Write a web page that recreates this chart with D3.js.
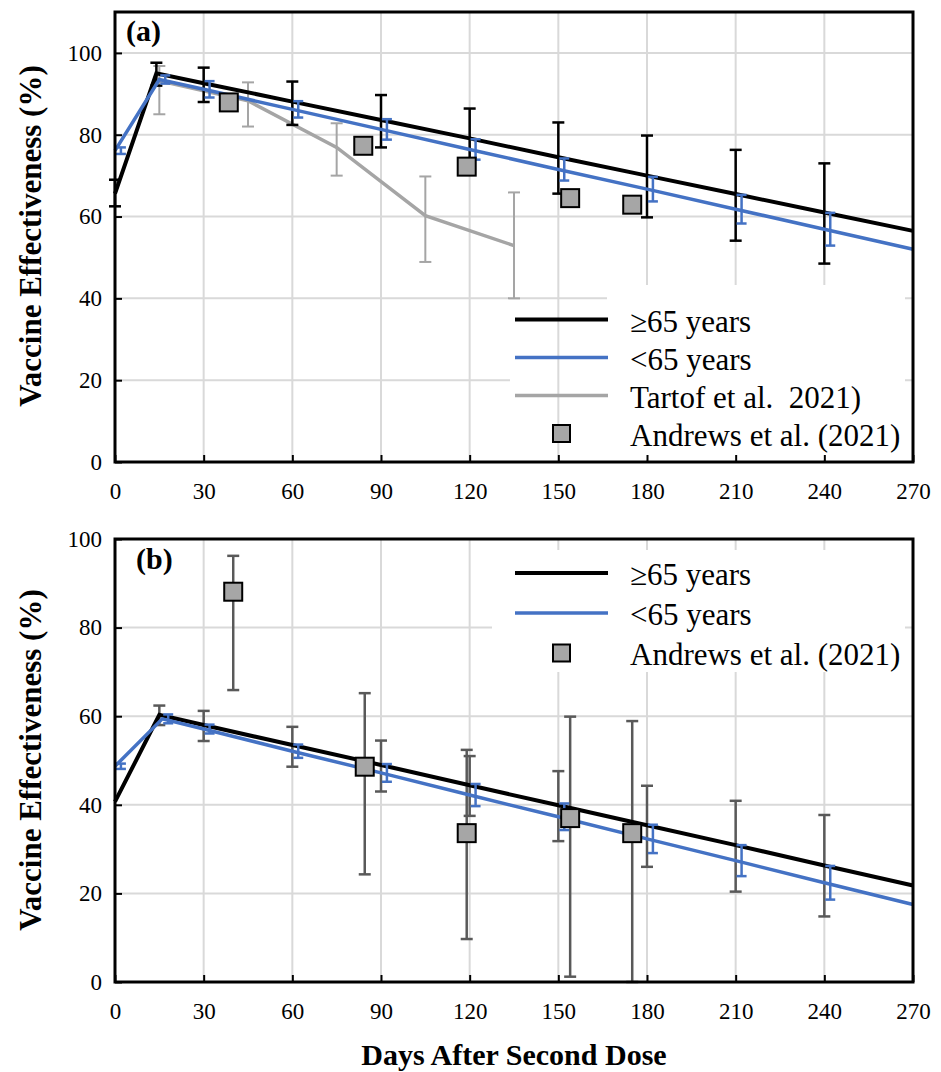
<!DOCTYPE html>
<html>
<head>
<meta charset="utf-8">
<script src="https://cdn.jsdelivr.net/npm/d3@7"></script>
<style>
  body { margin: 0; background: #fff; }
  text { font-family: "Liberation Serif", "Times New Roman", serif; white-space: pre; }
</style>
</head>
<body>
<div id="chart"></div>
<script>
// ---- data ----
const xTicks = [0, 30, 60, 90, 120, 150, 180, 210, 240, 270]
const yTicks = [0, 20, 40, 60, 80, 100]

// panel (a)
const olderA_day = [0, 14, 30, 60, 90, 120, 150, 180, 210, 240, 270]
const olderA_ve  = [65.6, 95, 92.6, 88.1, 83.6, 79.1, 74.5, 70.0, 65.5, 61.0, 56.5]
const olderA_errDay = [0, 14, 30, 60, 90, 120, 150, 180, 210, 240]
const olderA_lo  = [62.5, 92, 88, 82.4, 76.9, 72, 65.6, 59.8, 54.1, 48.5]
const olderA_hi  = [69, 97.6, 96.4, 93, 89.7, 86.4, 83, 79.8, 76.3, 73]

const youngA_day = [0, 15, 30, 60, 90, 120, 150, 180, 210, 240, 270]
const youngA_ve  = [76.1, 93.5, 91.1, 86.2, 81.3, 76.4, 71.5, 66.7, 61.8, 56.9, 52.0]
const youngA_err = [0.8, 1, 2, 2, 2.5, 2.5, 2.7, 3, 3.5, 4, 0]

const tartof_day = [15, 45, 75, 105, 135]
const tartof_ve  = [93.2, 88.3, 76.9, 60.2, 52.9]
const tartof_lo  = [85, 82, 70, 48.9, 40]
const tartof_hi  = [96.8, 92.8, 82.8, 69.8, 65.9]

const andrewsA_day = [38.5, 84, 119, 154, 175]
const andrewsA_ve  = [87.9, 77.3, 72.2, 64.5, 62.9]

// panel (b)
const olderB_day = [0, 15, 30, 60, 90, 120, 150, 180, 210, 240, 270]
const olderB_ve  = [40.7, 60.3, 58.0, 53.5, 49.0, 44.4, 39.9, 35.4, 30.9, 26.3, 21.8]
const olderB_errDay = [15, 30, 60, 90, 120, 150, 180, 210, 240]
const olderB_lo  = [58, 54.4, 48.6, 43, 37.5, 31.8, 26, 20.4, 14.8]
const olderB_hi  = [62.4, 61.2, 57.6, 54.5, 51, 47.6, 44.3, 40.9, 37.7]

const youngB_day = [0, 16, 30, 60, 90, 120, 150, 180, 210, 240, 270]
const youngB_ve  = [48.7, 59.4, 57.1, 52.1, 47.2, 42.2, 37.3, 32.3, 27.4, 22.4, 17.5]
const youngB_err = [0.6, 1, 1, 1.5, 2, 2.5, 3, 3.2, 3.5, 3.8, 0]

const andrewsB_day = [40, 84.5, 119, 154, 175]
const andrewsB_ve  = [88.1, 48.6, 33.6, 37, 33.6]
const andrewsB_lo  = [65.9, 24.3, 9.7, 1.2, 0]
const andrewsB_hi  = [96.2, 65.2, 52.4, 59.9, 58.9]

// ---- colours ----
const BLACK = '#000', BLUE = '#4472C4', GREY = '#A5A5A5', DARK = '#595959', GRID = '#d9d9d9'
const SQ_FILL = '#a6a6a6'

const width = 941, height = 1072
const left = 115, right = 913

const svg = d3.select('#chart').append('svg')
  .attr('width', width)
  .attr('height', height)

const x = d3.scaleLinear().domain([0, 270]).range([left, right])

function drawLine(g, y, days, ve, color, w) {
  g.append('path')
    .datum(d3.zip(days, ve))
    .attr('fill', 'none')
    .attr('stroke', color)
    .attr('stroke-width', w)
    .attr('d', d3.line().x(d => x(d[0])).y(d => y(d[1])))
}

function drawErrors(g, y, days, lo, hi, color, w, cap) {
  const data = days.map((d, i) => ({ d: d, lo: lo[i], hi: hi[i] }))
  const eg = g.append('g').attr('stroke', color).attr('stroke-width', w).attr('fill', 'none')
  eg.selectAll('.bar').data(data).join('line')
    .attr('x1', d => x(d.d)).attr('x2', d => x(d.d))
    .attr('y1', d => y(d.lo)).attr('y2', d => y(d.hi))
  eg.selectAll('.capLo').data(data).join('line')
    .attr('x1', d => x(d.d) - cap / 2).attr('x2', d => x(d.d) + cap / 2)
    .attr('y1', d => y(d.lo)).attr('y2', d => y(d.lo))
  eg.selectAll('.capHi').data(data).join('line')
    .attr('x1', d => x(d.d) - cap / 2).attr('x2', d => x(d.d) + cap / 2)
    .attr('y1', d => y(d.hi)).attr('y2', d => y(d.hi))
}

// blue bars are shifted 2 days to the right, like in the original sheet
function drawOffsetErrors(g, y, days, ve, err, color) {
  const dd = [], lo = [], hi = []
  days.forEach((d, i) => {
    if (err[i] > 0) { dd.push(d + 2); lo.push(ve[i] - err[i]); hi.push(ve[i] + err[i]) }
  })
  drawErrors(g, y, dd, lo, hi, color, 2.5, 10)
}

function drawSquares(g, y, days, ve) {
  g.append('g').selectAll('rect')
    .data(d3.zip(days, ve))
    .join('rect')
    .attr('x', d => x(d[0]) - 9)
    .attr('y', d => y(d[1]) - 9)
    .attr('width', 18).attr('height', 18)
    .attr('fill', SQ_FILL)
    .attr('stroke', '#000')
    .attr('stroke-width', 2)
}

function gridAndAxes(g, y, top, bottom, masks) {
  g.append('g').selectAll('line')
    .data(yTicks.filter(d => d > 0 && y(d) > top + 1))
    .join('line')
    .attr('x1', left).attr('x2', right)
    .attr('y1', d => y(d)).attr('y2', d => y(d))
    .attr('stroke', GRID).attr('stroke-width', 2)

  masks.before.forEach(m => g.append('rect').attr('x', m[0]).attr('y', m[1])
    .attr('width', m[2] - m[0]).attr('height', m[3] - m[1]).attr('fill', '#fff'))

  g.append('g').selectAll('line')
    .data(xTicks.filter(d => d > 0 && d < 270))
    .join('line')
    .attr('x1', d => x(d)).attr('x2', d => x(d))
    .attr('y1', top).attr('y2', bottom)
    .attr('stroke', GRID).attr('stroke-width', 2)

  masks.after.forEach(m => g.append('rect').attr('x', m[0]).attr('y', m[1])
    .attr('width', m[2] - m[0]).attr('height', m[3] - m[1]).attr('fill', '#fff'))
}

function frame(g, y, top, bottom, xLabelY) {
  g.append('rect')
    .attr('x', left).attr('y', top)
    .attr('width', right - left).attr('height', bottom - top)
    .attr('fill', 'none').attr('stroke', '#000').attr('stroke-width', 3)

  const ya = g.append('g')
    .attr('transform', `translate(${left},0)`)
    .call(d3.axisLeft(y).tickValues(yTicks).tickSize(-7).tickSizeOuter(0).tickPadding(13))
  ya.select('.domain').remove()
  ya.selectAll('line').attr('stroke', '#000').attr('stroke-width', 2)
  ya.selectAll('text').attr('font-size', 23).attr('fill', '#000')

  const xa = g.append('g')
    .attr('transform', `translate(0,${bottom})`)
    .call(d3.axisBottom(x).tickValues(xTicks).tickSize(-7).tickSizeOuter(0).tickPadding(xLabelY))
  xa.select('.domain').remove()
  xa.selectAll('line').attr('stroke', '#000').attr('stroke-width', 2)
  xa.selectAll('text').attr('font-size', 23).attr('fill', '#000')
}

function yTitle(g, cy) {
  g.append('text')
    .attr('transform', `translate(41,${cy}) rotate(-90)`)
    .attr('text-anchor', 'middle')
    .attr('font-size', 31)
    .attr('font-weight', 'bold')
    .text('Vaccine Effectiveness (%)')
}

function legend(g, items, y0, step) {
  items.forEach((it, i) => {
    const cy = y0 + i * step
    if (it.type === 'line') {
      g.append('line').attr('x1', 515).attr('x2', 608).attr('y1', cy).attr('y2', cy)
        .attr('stroke', it.color).attr('stroke-width', it.w)
    } else {
      g.append('rect').attr('x', 553).attr('y', cy - 8.5).attr('width', 17).attr('height', 17)
        .attr('fill', SQ_FILL).attr('stroke', '#000').attr('stroke-width', 2)
    }
    g.append('text').attr('x', 630).attr('y', cy + 12)
      .attr('font-size', 31).text(it.label)
  })
}

// ---------------- panel (a) ----------------
{
  const top = 12, bottom = 462
  const y = d3.scaleLinear().domain([0, 110]).range([bottom, top])
  const g = svg.append('g')

  gridAndAxes(g, y, top, bottom, {
    before: [[510, 305, 905, 460]],
    after: [[607, 285, 905, 460]]
  })

  drawErrors(g, y, tartof_day, tartof_lo, tartof_hi, GREY, 2, 12)
  drawLine(g, y, tartof_day, tartof_ve, GREY, 3.5)
  drawErrors(g, y, olderA_errDay, olderA_lo, olderA_hi, BLACK, 2.5, 12)
  drawLine(g, y, olderA_day, olderA_ve, BLACK, 4)
  drawLine(g, y, youngA_day, youngA_ve, BLUE, 3.5)
  drawOffsetErrors(g, y, youngA_day, youngA_ve, youngA_err, BLUE)
  drawSquares(g, y, andrewsA_day, andrewsA_ve)

  frame(g, y, top, bottom, 21)
  yTitle(g, 236)

  g.append('text').attr('x', 126).attr('y', 41)
    .attr('font-size', 30).attr('font-weight', 'bold').text('(a)')

  legend(g, [
    { type: 'line', color: BLACK, w: 4, label: '≥65 years' },
    { type: 'line', color: BLUE, w: 3.5, label: '<65 years' },
    { type: 'line', color: GREY, w: 3.5, label: 'Tartof et al.  2021)' },
    { type: 'square', label: 'Andrews et al. (2021)' }
  ], 319.5, 38)
}

// ---------------- panel (b) ----------------
{
  const top = 539, bottom = 982
  const y = d3.scaleLinear().domain([0, 100]).range([bottom, top])
  const g = svg.append('g')

  gridAndAxes(g, y, top, bottom, {
    before: [],
    after: [[492, 550, 905, 672]]
  })

  drawErrors(g, y, olderB_errDay, olderB_lo, olderB_hi, DARK, 2.5, 12)
  drawErrors(g, y, andrewsB_day, andrewsB_lo, andrewsB_hi, DARK, 2.5, 12)
  drawLine(g, y, olderB_day, olderB_ve, BLACK, 4)
  drawLine(g, y, youngB_day, youngB_ve, BLUE, 3.5)
  drawOffsetErrors(g, y, youngB_day, youngB_ve, youngB_err, BLUE)
  drawSquares(g, y, andrewsB_day, andrewsB_ve)

  frame(g, y, top, bottom, 21)
  yTitle(g, 760)

  g.append('text').attr('x', 136).attr('y', 569)
    .attr('font-size', 30).attr('font-weight', 'bold').text('(b)')

  legend(g, [
    { type: 'line', color: BLACK, w: 4, label: '≥65 years' },
    { type: 'line', color: BLUE, w: 3.5, label: '<65 years' },
    { type: 'square', label: 'Andrews et al. (2021)' }
  ], 573, 40)
}

svg.append('text')
  .attr('x', (left + right) / 2)
  .attr('y', 1065)
  .attr('text-anchor', 'middle')
  .attr('font-size', 30)
  .attr('font-weight', 'bold')
  .text('Days After Second Dose')
</script>
</body>
</html>
